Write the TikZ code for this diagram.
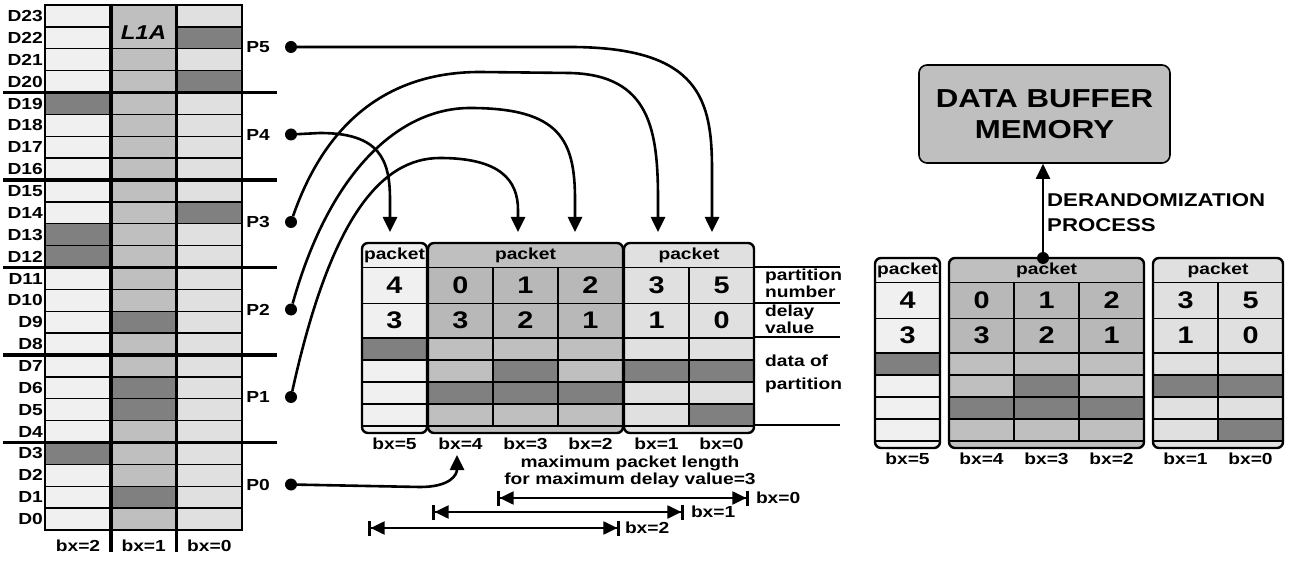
\documentclass[tikz,border=0pt]{standalone}
\usepackage{fontspec}
\setmainfont{Liberation Sans}[FakeStretch=1.2]
\usetikzlibrary{positioning,arrows.meta,calc}

\definecolor{vlight}{gray}{0.94}
\definecolor{light}{gray}{0.88}
\definecolor{mid}{gray}{0.75}
\definecolor{numc}{gray}{0.72}
\definecolor{dark}{gray}{0.5}

% one row of three packets: #1 name, #2 left, #3 top, #4 gap between packets
\newcommand{\packetrow}[4]{%
  \pgfmathsetmacro\bmL{#2+65+#4}
  \pgfmathsetmacro\brL{#2+260+2*#4}
  \fill[vlight,rounded corners=6pt] (#2,#3) rectangle +(65,190);
  \fill[mid,rounded corners=6pt] (\bmL,#3) rectangle +(195,190);
  \fill[light,rounded corners=6pt] (\brL,#3) rectangle +(130,190);
  \foreach \pn/\dv/\nc/\ca/\cb/\cc/\cd [count=\i from 0] in
    {4/3/vlight/dark/vlight/vlight/vlight, 0/3/numc/mid/mid/dark/mid,
     1/2/numc/mid/dark/dark/mid, 2/1/numc/mid/mid/dark/mid,
     3/1/light/light/dark/light/light, 5/0/light/light/dark/light/dark}{
    \pgfmathsetmacro\xl{#2+\i*65+(\i>0)*#4+(\i>3)*#4}
    \pgfmathtruncatemacro\bx{5-\i}
    \fill[\nc] (\xl,#3+24.5) rectangle +(65,70.5);
    \fill[\ca] (\xl,#3+95) rectangle +(65,22);
    \fill[\cb] (\xl,#3+117) rectangle +(65,22);
    \fill[\cc] (\xl,#3+139) rectangle +(65,22);
    \fill[\cd] (\xl,#3+161) rectangle +(65,22);
    \node[num] (#1pn\i) at (\xl+32.5,#3+42.5) {\pn};
    \node[num] (#1dv\i) at (\xl+32.5,#3+77.5) {\dv};
    \node (#1bx\i) at (\xl+32.5,#3+201) {bx=\bx};
  }
  \foreach \yy in {24.5,60.5,95,117,139,161,183}{
    \draw[cellline] (#2,#3+\yy) -- +(65,0);
    \draw[cellline] (\bmL,#3+\yy) -- +(195,0);
    \draw[cellline] (\brL,#3+\yy) -- +(130,0);
  }
  \draw[cellline] (\bmL+65,#3+24.5) -- +(0,158.5)
    (\bmL+130,#3+24.5) -- +(0,158.5) (\brL+65,#3+24.5) -- +(0,158.5);
  \draw[pktframe] (#2,#3) rectangle +(65,190);
  \draw[pktframe] (\bmL,#3) rectangle +(195,190);
  \draw[pktframe] (\brL,#3) rectangle +(130,190);
  \node (#1hd0) at (#2+32.5,#3+12.5) {packet};
  \node (#1hd1) at (\bmL+97.5,#3+12.5) {packet};
  \node (#1hd2) at (\brL+65,#3+12.5) {packet};
}

\begin{document}
\begin{tikzpicture}[x=1pt,y=-1pt]
  \tikzstyle{every node}=[inner sep=0pt, font=\bfseries\fontsize{16}{17}\selectfont]
  \tikzstyle{num}=[font=\bfseries\fontsize{24}{24}\selectfont]
  \tikzstyle{cellline}=[line width=1.3pt]
  \tikzstyle{pktframe}=[line width=2.4pt, rounded corners=6pt]
  \tikzstyle{grouprule}=[line width=3.6pt]
  \tikzstyle{link}=[line width=2.6pt, -{Triangle[length=15pt,width=14pt]}]
  \tikzstyle{dimarrow}=[line width=2pt,
    {Bar[width=15pt,line width=2.6pt]Triangle[length=14pt,width=13pt]}-{Triangle[length=14pt,width=13pt]Bar[width=15pt,line width=2.6pt]}]
  \tikzstyle{dot}=[circle, fill=black, minimum size=12pt]
  \useasboundingbox (0,0) rectangle (1298,561);

  % L1A memory
  \fill[vlight] (45,5) rectangle (110.7,530);
  \fill[mid] (110.7,5) rectangle (176.3,530);
  \fill[light] (176.3,5) rectangle (242,530);
  \foreach \c/\k in {0/19,0/13,0/12,0/3,1/9,1/6,1/5,1/1,2/22,2/20,2/14}
    \fill[dark] ({45+\c*65.67},{5+(23-\k)*21.875}) rectangle +(65.67,21.875);
  \foreach \k in {2,...,23}
    \draw[cellline] (45,{5+\k*21.875}) -- (242,{5+\k*21.875});
  \draw[cellline] (45,26.9) -- (110.7,26.9) (176.3,26.9) -- (242,26.9);
  \draw[cellline] (45,5) rectangle (242,530);
  \foreach \k in {4,8,...,20}
    \draw[grouprule] (3,{5+\k*21.875}) -- (277,{5+\k*21.875});
  \draw[grouprule] (110.7,5) -- (110.7,552) (176.3,5) -- (176.3,552);
  \foreach \k in {0,...,23}
    \node[anchor=east] (d\k) at (43,{16+(23-\k)*21.875}) {D\k};
  \node[font=\bfseries\itshape\fontsize{20}{20}\selectfont] (l1a) at (143.5,33) {L1A};
  \foreach \b [count=\i from 0] in {2,1,0}
    \node (lbx\b) at ({78+\i*65.67},546) {bx=\b};
  \foreach \p in {0,...,5}{
    \node (p\p) at (258,{47+(5-\p)*87.5}) {P\p};
    \node[dot] (dot\p) at (291,{47+(5-\p)*87.5}) {};
  }

  % packets after interleaving
  \packetrow{m}{362}{243}{1}
  \foreach \yy in {267,303,337,425}
    \draw[cellline] (754,\yy) -- (840,\yy);
  \node[anchor=west, align=left] (pnlab) at (765,283.5) {partition\\number};
  \node[anchor=west, align=left] (dvlab) at (765,319) {delay\\value};
  \node[anchor=west, align=left] (dplab) at (765,373.5) {data of\\[6pt]partition};

  % partitions into the packets
  \coordinate (t0) at (457,455);
  \coordinate (t1) at (518,232);
  \coordinate (t2) at (575,232);
  \coordinate (t3) at (658,232);
  \coordinate (t4) at (390,232);
  \coordinate (t5) at (712,232);
  \draw[link] (dot5) -- (570,47) .. controls (700,47) and (712,100) .. (712,170) -- (t5);
  \draw[link] (dot4) -- (320,133) .. controls (380,133) and (390,160) .. (390,200) -- (t4);
  \draw[link] (dot3) .. controls (330,110) and (400,72) .. (480,72) -- (570,73)
    .. controls (650,75) and (658,130) .. (658,200) -- (t3);
  \draw[link] (dot2) .. controls (330,170) and (400,108) .. (470,108)
    .. controls (560,108) and (575,140) .. (575,200) -- (t2);
  \draw[link] (dot1) .. controls (330,220) and (380,158) .. (440,158)
    .. controls (500,158) and (518,180) .. (518,210) -- (t1);
  \draw[link] (dot0) -- (420,487) .. controls (450,487) and (457,475) .. (t0);

  % packet lengths
  \node[align=center] (maxlen) at (630,471.5) {maximum packet length\\for maximum delay value=3};
  \coordinate (m0a) at (497,498); \coordinate (m0b) at (749,498);
  \coordinate (m1a) at (432,512); \coordinate (m1b) at (684,512);
  \coordinate (m2a) at (368,528); \coordinate (m2b) at (620,528);
  \draw[dimarrow] (m0a) -- (m0b) node[anchor=west, xshift=6pt] (len0) {bx=0};
  \draw[dimarrow] (m1a) -- (m1b) node[anchor=west, xshift=6pt] (len1) {bx=1};
  \draw[dimarrow] (m2a) -- (m2b) node[anchor=west, xshift=4pt] (len2) {bx=2};

  % derandomization
  \packetrow{r}{875}{258}{9}
  \node[dot] (rdot) at (1043,258) {};
  \node[draw, fill=mid, rounded corners=8pt, line width=1.6pt, minimum width=251pt,
    minimum height=98pt, align=center, font=\bfseries\fontsize{26}{31}\selectfont]
    (dbm) at (1044.5,114) {DATA BUFFER\\MEMORY};
  \draw[link, line width=2pt] (rdot) -- (rdot |- dbm.south);
  \node[anchor=west, align=left, font=\bfseries\fontsize{18.5}{25}\selectfont]
    (derand) at (1047,212.5) {DERANDOMIZATION\\PROCESS};
\end{tikzpicture}
\end{document}
